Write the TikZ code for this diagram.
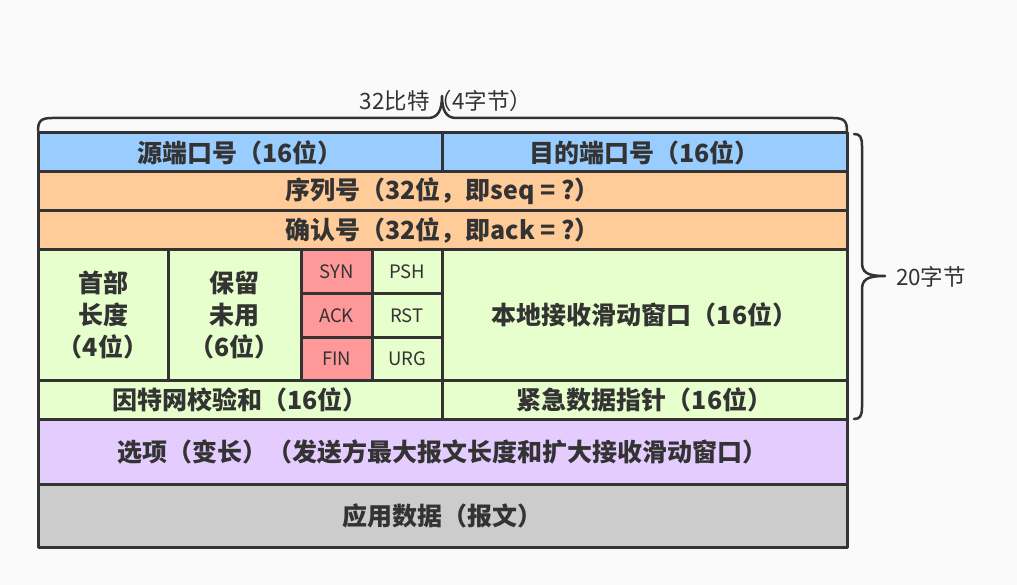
\documentclass[tikz,border=0pt]{standalone}
\usepackage{fontspec}
\setmainfont{Noto Sans CJK SC}
\usetikzlibrary{calc}
\definecolor{lineg}{RGB}{51,51,51}
\definecolor{bgcol}{RGB}{250,250,250}
\definecolor{portblue}{RGB}{153,204,255}
\definecolor{numorange}{RGB}{255,204,153}
\definecolor{ctrlgreen}{RGB}{230,255,204}
\definecolor{flagred}{RGB}{255,153,153}
\definecolor{optpurple}{RGB}{229,204,255}
\definecolor{datagray}{RGB}{204,204,204}
\tikzset{
    cell/.style={draw=lineg, line width=3pt, inner sep=0pt, outer sep=0pt, text=lineg,
        align=center, font=\bfseries\fontsize{25}{32}\selectfont},
    flagcell/.style={cell, font=\fontsize{18.5}{22}\selectfont},
    bracepath/.style={draw=lineg, line width=2.5pt, line cap=round},
    bracelbl/.style={text=lineg, inner sep=0pt, font=\fontsize{22.5}{26}\selectfont}
}
\newcommand{\tcpcell}[7][cell]{\node[#1, fill=#7, minimum width={#4pt-#2pt}, minimum height={#5pt-#3pt}]
        (#6) at ({(#2+#4)/2}, {(#3+#5)/2})}

\begin{document}
\begin{tikzpicture}[x=1pt, y=-1pt, line join=round]
    \fill[bgcol] (0,0) rectangle (1017,585);

    % Draw header rows
    \tcpcell{38}{133}{442}{172}{srcport}{portblue} {源端口号（16位）};
    \tcpcell{442}{133}{847}{172}{dstport}{portblue} {目的端口号（16位）};
    \tcpcell{38}{172}{847}{211}{seq}{numorange} {序列号（32位，即seq = ?）};
    \tcpcell{38}{211}{847}{250}{ack}{numorange} {确认号（32位，即ack = ?）};

    % Draw control row
    \tcpcell{38}{250}{168}{380}{hdrlen}{ctrlgreen} {首部\\长度\\（4位）};
    \tcpcell{168}{250}{301}{380}{rsvd}{ctrlgreen} {保留\\未用\\（6位）};
    \tcpcell[flagcell]{301}{250}{372}{294}{syn}{flagred} {SYN};
    \tcpcell[flagcell]{372}{250}{442}{294}{psh}{ctrlgreen} {PSH};
    \tcpcell[flagcell]{301}{294}{372}{337}{ackflag}{flagred} {ACK};
    \tcpcell[flagcell]{372}{294}{442}{337}{rst}{ctrlgreen} {RST};
    \tcpcell[flagcell]{301}{337}{372}{380}{fin}{flagred} {FIN};
    \tcpcell[flagcell]{372}{337}{442}{380}{urg}{ctrlgreen} {URG};
    \tcpcell{442}{250}{847}{380}{window}{ctrlgreen} {本地接收滑动窗口（16位）};
    \tcpcell{38}{380}{442}{419}{checksum}{ctrlgreen} {因特网校验和（16位）};
    \tcpcell{442}{380}{847}{419}{urgptr}{ctrlgreen} {紧急数据指针（16位）};

    % Draw options and data
    \tcpcell{38}{419}{847}{484}{options}{optpurple} {选项（变长）（发送方最大报文长度和扩大接收滑动窗口）};
    \tcpcell{38}{484}{847}{547}{data}{datagray} {应用数据（报文）};

    % Draw braces
    \node[bracelbl] (widthlbl) at (446,101) {32比特（4字节）};
    \node[bracelbl] (sizelbl) at (931,277) {20字节};

    \coordinate (tl) at (38,131);
    \coordinate (tr) at (847,131);
    \coordinate (tt) at (442,96);
    \draw[bracepath] (tl) .. controls (38,121) and (41,118) .. (52,118) -- (428,118)
        .. controls (438,118) and (442,110) .. (tt)
        .. controls (442,110) and (446,118) .. (456,118) -- (833,118)
        .. controls (844,118) and (847,121) .. (tr);

    \coordinate (rt) at (854,134);
    \coordinate (rb) at (854,419);
    \coordinate (rm) at (885,276);
    \draw[bracepath] (rt) .. controls (860,134) and (862,137) .. (862,146) -- (862,262)
        .. controls (862,272) and (866,276) .. (rm)
        .. controls (866,276) and (862,280) .. (862,290) -- (862,407)
        .. controls (862,416) and (860,419) .. (rb);
\end{tikzpicture}
\end{document}
